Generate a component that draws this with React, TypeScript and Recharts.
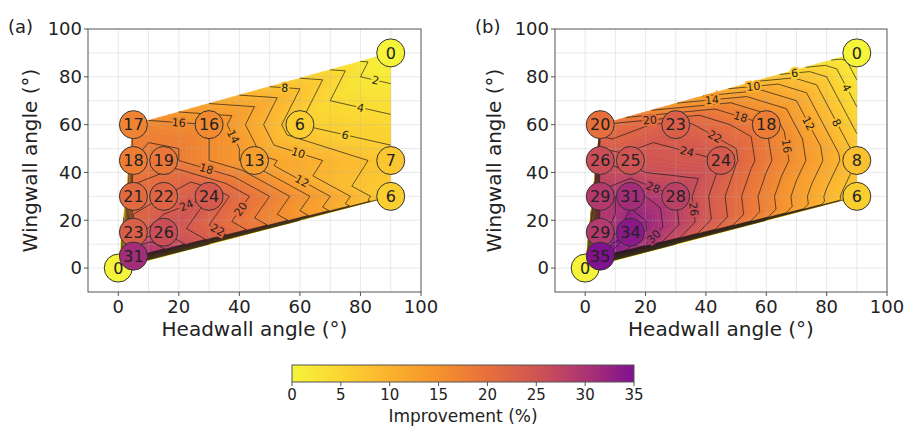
import React from 'react';
import { ScatterChart, Scatter, XAxis, YAxis, ReferenceArea } from 'recharts';

const FONT = '"DejaVu Sans", Verdana, sans-serif';

// ---- data ----
const HEADWALL_ANGLE = [0, 90, 5, 30, 60, 5, 15, 45, 90, 5, 15, 30, 90, 5, 15, 5];
const WINGWALL_ANGLE = [0, 90, 60, 60, 60, 45, 45, 45, 45, 30, 30, 30, 30, 15, 15, 5];
const IMPROVEMENT_A = [0, 0, 17, 16, 6, 18, 19, 13, 7, 21, 22, 24, 6, 23, 26, 31];
const IMPROVEMENT_B = [0, 0, 20, 23, 18, 26, 25, 24, 8, 29, 31, 28, 6, 29, 34, 35];

const AXIS_DOMAIN: [number, number] = [-10, 100];
const AXIS_TICKS = [0, 20, 40, 60, 80, 100];
const GRID_LINES = [0, 10, 20, 30, 40, 50, 60, 70, 80, 90];
const CONTOUR_STEP = 2;
const FILL_LEVELS = 100;
const COLOR_RANGE: [number, number] = [0, 35];
const COLORBAR_TICKS = [0, 5, 10, 15, 20, 25, 30, 35];
const CMAP_VALUES = [0, 5, 10, 15, 20, 25, 30, 35];
const CMAP_COLORS = ['#f6f43a', '#fbd531', '#fbb22e', '#f5922c', '#e76f3b', '#d05452', '#ac3472', '#80118f'];

// ---- helpers ----
const hexToRgb = (h: string) => [1, 3, 5].map((i) => parseInt(h.slice(i, i + 2), 16));
const CMAP_RGB = CMAP_COLORS.map(hexToRgb);
function cmap(v: number): string {
  const c = Math.max(COLOR_RANGE[0], Math.min(COLOR_RANGE[1], v));
  let i = 0;
  while (i < CMAP_VALUES.length - 2 && c > CMAP_VALUES[i + 1]) i++;
  const t = (c - CMAP_VALUES[i]) / (CMAP_VALUES[i + 1] - CMAP_VALUES[i]);
  const a = CMAP_RGB[i], b = CMAP_RGB[i + 1];
  const m = a.map((ai, k) => Math.round(ai + (b[k] - ai) * t));
  return `rgb(${m[0]},${m[1]},${m[2]})`;
}

type Pt = { x: number; y: number; v: number };

function delaunay(pts: Pt[]): number[][] {
  const P = pts.map((p) => [p.x, p.y]);
  const n = P.length;
  P.push([-1e5, -1e5], [1e5, -1e5], [0, 1e5]);
  type T = { a: number; b: number; c: number; cx: number; cy: number; r2: number };
  const mk = (a: number, b: number, c: number): T | null => {
    const [ax, ay] = P[a], [bx, by] = P[b], [cx, cy] = P[c];
    const d = 2 * (ax * (by - cy) + bx * (cy - ay) + cx * (ay - by));
    if (Math.abs(d) < 1e-12) return null;
    const A = ax * ax + ay * ay, B = bx * bx + by * by, C = cx * cx + cy * cy;
    const ux = (A * (by - cy) + B * (cy - ay) + C * (ay - by)) / d;
    const uy = (A * (cx - bx) + B * (ax - cx) + C * (bx - ax)) / d;
    return { a, b, c, cx: ux, cy: uy, r2: (ax - ux) ** 2 + (ay - uy) ** 2 };
  };
  let tris: T[] = [mk(n, n + 1, n + 2)!];
  for (let i = 0; i < n; i++) {
    const [px, py] = P[i];
    const bad: T[] = [], good: T[] = [];
    for (const t of tris) {
      const d2 = (px - t.cx) ** 2 + (py - t.cy) ** 2;
      if (d2 < t.r2 * (1 - 1e-12)) bad.push(t); else good.push(t);
    }
    const edges = new Map<string, { e: [number, number]; c: number }>();
    for (const t of bad) {
      for (const [u, v] of [[t.a, t.b], [t.b, t.c], [t.c, t.a]] as [number, number][]) {
        const k = Math.min(u, v) + ',' + Math.max(u, v);
        const ex = edges.get(k);
        if (ex) ex.c++; else edges.set(k, { e: [u, v], c: 1 });
      }
    }
    tris = good;
    edges.forEach(({ e, c }) => {
      if (c === 1) {
        const t = mk(e[0], e[1], i);
        if (t) tris.push(t);
      }
    });
  }
  return tris.filter((t) => t.a < n && t.b < n && t.c < n).map((t) => [t.a, t.b, t.c]);
}

function clip(poly: Pt[], lvl: number, above: boolean): Pt[] {
  const out: Pt[] = [];
  const inside = (p: Pt) => (above ? p.v >= lvl : p.v <= lvl);
  for (let i = 0; i < poly.length; i++) {
    const a = poly[i], b = poly[(i + 1) % poly.length];
    const ia = inside(a), ib = inside(b);
    if (ia) out.push(a);
    if (ia !== ib) {
      const t = (lvl - a.v) / (b.v - a.v);
      out.push({ x: a.x + t * (b.x - a.x), y: a.y + t * (b.y - a.y), v: lvl });
    }
  }
  return out;
}

function makeField(points: Pt[]) {
  const tris = delaunay(points).map((t) => t.map((i) => points[i]));
  return (props: any) => {
    const { x, y, width, height } = props;
    const span = AXIS_DOMAIN[1] - AXIS_DOMAIN[0];
    const sx = (d: number) => x + ((d - AXIS_DOMAIN[0]) / span) * width;
    const sy = (d: number) => y + height - ((d - AXIS_DOMAIN[0]) / span) * height;
    const f = (n: number) => n.toFixed(2);
    const step = (COLOR_RANGE[1] - COLOR_RANGE[0]) / FILL_LEVELS;
    const bands: JSX.Element[] = [];
    for (let k = 0; k < FILL_LEVELS; k++) {
      const lo = COLOR_RANGE[0] + k * step;
      const hi = k === FILL_LEVELS - 1 ? 1e9 : lo + step;
      let d = '';
      for (const tri of tris) {
        const mn = Math.min(tri[0].v, tri[1].v, tri[2].v);
        const mx = Math.max(tri[0].v, tri[1].v, tri[2].v);
        if (mx < lo || mn > hi) continue;
        const poly = clip(clip(tri, lo, true), hi, false);
        if (poly.length < 3) continue;
        d += 'M' + poly.map((p) => f(sx(p.x)) + ' ' + f(sy(p.y))).join('L') + 'Z';
      }
      if (d) {
        const col = cmap(lo + step / 2);
        bands.push(<path key={'b' + k} d={d} fill={col} stroke={col} strokeWidth={0.6} />);
      }
    }
    // pixel thickness of each triangle (to avoid labelling the thin hull slivers)
    const thick = tris.map((tri) => {
      const p = tri.map((q) => [sx(q.x), sy(q.y)]);
      const area = Math.abs((p[1][0] - p[0][0]) * (p[2][1] - p[0][1]) - (p[2][0] - p[0][0]) * (p[1][1] - p[0][1]));
      const maxEdge = Math.max(
        Math.hypot(p[1][0] - p[0][0], p[1][1] - p[0][1]),
        Math.hypot(p[2][0] - p[1][0], p[2][1] - p[1][1]),
        Math.hypot(p[0][0] - p[2][0], p[0][1] - p[2][1])
      );
      return area / maxEdge;
    });
    const markers = points.map((p) => [sx(p.x), sy(p.y)]);
    const placed: number[][] = [];
    const lines: JSX.Element[] = [];
    const labels: JSX.Element[] = [];
    for (let L = CONTOUR_STEP; L < COLOR_RANGE[1]; L += CONTOUR_STEP) {
      let d = '';
      let best: number[] | null = null;
      let bestLen = 0;
      tris.forEach((tri, ti) => {
        const pts: Pt[] = [];
        for (let e = 0; e < 3; e++) {
          const a = tri[e], b = tri[(e + 1) % 3];
          if ((a.v >= L) !== (b.v >= L)) {
            const t = (L - a.v) / (b.v - a.v);
            pts.push({ x: a.x + t * (b.x - a.x), y: a.y + t * (b.y - a.y), v: L });
          }
        }
        if (pts.length === 2) {
          const x0 = sx(pts[0].x), y0 = sy(pts[0].y), x1 = sx(pts[1].x), y1 = sy(pts[1].y);
          d += `M${f(x0)} ${f(y0)}L${f(x1)} ${f(y1)}`;
          const len = Math.hypot(x1 - x0, y1 - y0);
          const mx = (x0 + x1) / 2, my = (y0 + y1) / 2;
          const free =
            thick[ti] > 14 &&
            markers.every(([cx, cy]) => Math.hypot(mx - cx, my - cy) > 22) &&
            placed.every(([px, py]) => Math.hypot(mx - px, my - py) > 26);
          if (free && len > bestLen) {
            bestLen = len;
            best = [mx, my, x0, y0, x1, y1];
          }
        }
      });
      if (d) lines.push(<path key={'l' + L} d={d} fill="none" stroke="#1a1a1a" strokeOpacity={0.75} strokeWidth={0.9} />);
      if (best && bestLen >= 16) {
        const [mx, my, x0, y0, x1, y1] = best;
        let ang = (Math.atan2(y1 - y0, x1 - x0) * 180) / Math.PI;
        if (ang > 90) ang -= 180;
        if (ang < -90) ang += 180;
        placed.push([mx, my]);
        labels.push(
          <text
            key={'t' + L}
            x={mx}
            y={my}
            dy="0.36em"
            textAnchor="middle"
            fontSize={11}
            fontFamily={FONT}
            fill="#222"
            stroke={cmap(L)}
            strokeWidth={4}
            paintOrder="stroke"
            transform={`rotate(${ang.toFixed(1)} ${f(mx)} ${f(my)})`}
          >
            {L}
          </text>
        );
      }
    }
    const grid = GRID_LINES.map((g) => (
      <g key={'g' + g}>
        <line x1={sx(g)} x2={sx(g)} y1={y} y2={y + height} stroke="#b0b0b0" strokeOpacity={0.35} strokeWidth={0.8} />
        <line x1={x} x2={x + width} y1={sy(g)} y2={sy(g)} stroke="#b0b0b0" strokeOpacity={0.35} strokeWidth={0.8} />
      </g>
    ));
    return (
      <g>
        {bands}
        {grid}
        {lines}
        {labels}
        <rect x={x} y={y} width={width} height={height} fill="none" stroke="#555" strokeWidth={1} />
      </g>
    );
  };
}

const renderMarker = (props: any) => {
  const { cx, cy, payload } = props;
  return (
    <g>
      <circle cx={cx} cy={cy} r={14} fill={cmap(payload.v)} stroke="#333" strokeWidth={1} />
      <text x={cx} y={cy} dy="0.36em" textAnchor="middle" fontSize={16} fontFamily={FONT} fill="#222">
        {payload.v}
      </text>
    </g>
  );
};

const tickStyle = { fontSize: 18, fill: '#222', fontFamily: FONT };

function ContourPanel({ values, left, margin, yLabelGap }: { values: number[]; left: number; margin: any; yLabelGap: number }) {
  const points: Pt[] = HEADWALL_ANGLE.map((x, i) => ({ x, y: WINGWALL_ANGLE[i], v: values[i] }));
  const field = makeField(points);
  return (
    <div style={{ position: 'absolute', left, top: 0 }}>
      <ScatterChart width={452} height={345} margin={margin}>
        <XAxis
          type="number"
          dataKey="x"
          domain={AXIS_DOMAIN}
          ticks={AXIS_TICKS}
          interval={0}
          allowDataOverflow
          axisLine={false}
          tickLine={{ stroke: '#555' }}
          tickSize={4}
          tickMargin={4}
          height={50}
          tick={tickStyle}
          label={{
            value: 'Headwall angle (°)',
            content: (p: any) => {
              const vb = p.viewBox;
              return (
                <text x={vb.x + vb.width / 2} y={vb.y + 44} textAnchor="middle" fontSize={20} fontFamily={FONT} fill="#222">
                  Headwall angle (°)
                </text>
              );
            },
          }}
        />
        <YAxis
          type="number"
          dataKey="y"
          domain={AXIS_DOMAIN}
          ticks={AXIS_TICKS}
          interval={0}
          allowDataOverflow
          axisLine={false}
          tickLine={{ stroke: '#555' }}
          tickSize={4}
          tickMargin={2}
          width={60}
          tick={tickStyle}
          label={{
            value: 'Wingwall angle (°)',
            content: (p: any) => {
              const vb = p.viewBox;
              const cx = vb.x + vb.width - yLabelGap;
              const cy = vb.y + vb.height / 2;
              return (
                <text x={cx} y={cy} dy="0.26em" transform={`rotate(-90 ${cx} ${cy})`} textAnchor="middle" fontSize={20} fontFamily={FONT} fill="#222">
                  Wingwall angle (°)
                </text>
              );
            },
          }}
        />
        <ReferenceArea x1={AXIS_DOMAIN[0]} x2={AXIS_DOMAIN[1]} y1={AXIS_DOMAIN[0]} y2={AXIS_DOMAIN[1]} ifOverflow="visible" shape={field} />
        <Scatter data={points} isAnimationActive={false} shape={renderMarker} />
      </ScatterChart>
    </div>
  );
}

const renderColorbar = (props: any) => {
  const { x, y, width, height } = props;
  const span = COLOR_RANGE[1] - COLOR_RANGE[0];
  return (
    <g>
      <defs>
        <linearGradient id="cbarGrad" x1="0" x2="1" y1="0" y2="0">
          {CMAP_VALUES.map((v, i) => (
            <stop key={v} offset={(v - COLOR_RANGE[0]) / span} stopColor={CMAP_COLORS[i]} />
          ))}
        </linearGradient>
      </defs>
      <rect x={x} y={y} width={width} height={height} fill="url(#cbarGrad)" stroke="#555" strokeWidth={1} />
    </g>
  );
};

const COLORBAR_POINTS = COLORBAR_TICKS.map((v) => ({ x: v, y: 0.5 }));

function Colorbar() {
  return (
    <div style={{ position: 'absolute', left: 270, top: 355 }}>
      <ScatterChart width={380} height={73} margin={{ top: 10, right: 16, bottom: 0, left: 22 }}>
        <XAxis
          type="number"
          dataKey="x"
          domain={COLOR_RANGE}
          ticks={COLORBAR_TICKS}
          interval={0}
          axisLine={false}
          tickLine={{ stroke: '#555' }}
          tickSize={4}
          tickMargin={3}
          height={46}
          tick={{ fontSize: 15, fill: '#222', fontFamily: FONT }}
          label={{
            value: 'Improvement (%)',
            content: (p: any) => {
              const vb = p.viewBox;
              return (
                <text x={vb.x + vb.width / 2} y={vb.y + 40} textAnchor="middle" fontSize={17} fontFamily={FONT} fill="#222">
                  Improvement (%)
                </text>
              );
            },
          }}
        />
        <YAxis type="number" dataKey="y" domain={[0, 1]} hide />
        <ReferenceArea x1={COLOR_RANGE[0]} x2={COLOR_RANGE[1]} y1={0} y2={1} ifOverflow="visible" shape={renderColorbar} />
        <Scatter data={COLORBAR_POINTS} isAnimationActive={false} shape={() => <g />} />
      </ScatterChart>
    </div>
  );
}

const panelLabel = (left: number): React.CSSProperties => ({
  position: 'absolute',
  left,
  top: 18,
  fontSize: 18,
  lineHeight: '18px',
  fontFamily: FONT,
  color: '#222',
});

export default function App() {
  return (
    <div style={{ position: 'relative', width: 904, height: 428, background: '#fff', fontFamily: FONT, overflow: 'hidden' }}>
      <style>{'body{margin:0}'}</style>
      <ContourPanel values={IMPROVEMENT_A} left={0} margin={{ top: 29, right: 31, bottom: 3, left: 28 }} yLabelGap={56} />
      <ContourPanel values={IMPROVEMENT_B} left={452} margin={{ top: 29, right: 17, bottom: 3, left: 43 }} yLabelGap={59} />
      <Colorbar />
      <div style={panelLabel(8)}>(a)</div>
      <div style={panelLabel(475)}>(b)</div>
    </div>
  );
}
